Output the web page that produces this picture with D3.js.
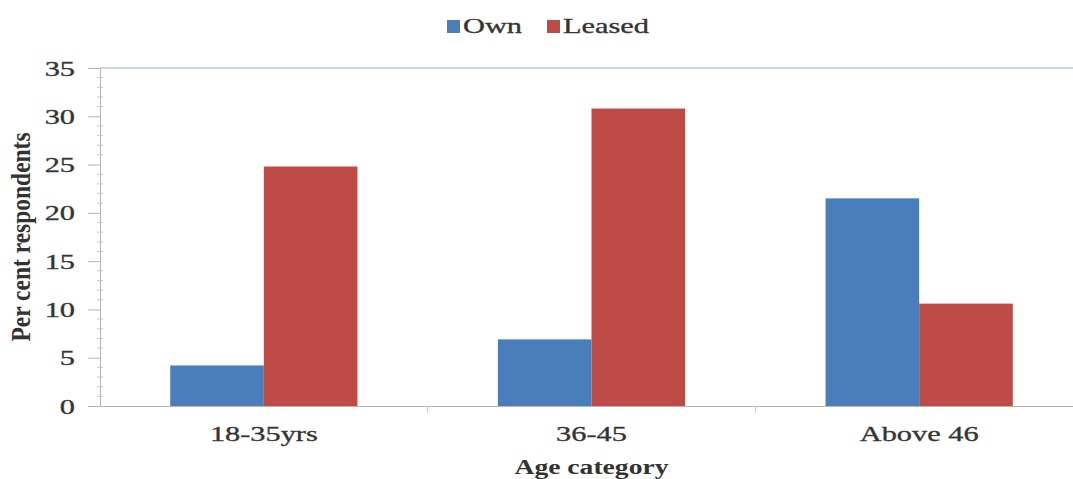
<!DOCTYPE html>
<html>
<head>
<meta charset="utf-8">
<script src="https://cdn.jsdelivr.net/npm/d3@7"></script>
<style>
  html, body { margin: 0; padding: 0; background: #fff; }
  svg { display: block; }
  text { font-family: "Liberation Serif", "Times New Roman", serif; fill: #333; }
  .reg { stroke: #3a3a3a; stroke-width: 0.35px; }
</style>
</head>
<body>
<div id="chart"></div>
<script>
// Tenure of land by age group of respondents
const categories = ["18-35yrs", "36-45", "Above 46"];
const seriesNames = ["Own", "Leased"];
const ownValues = [4.2, 6.9, 21.5];
const leasedValues = [24.8, 30.8, 10.6];
const yTicks = [0, 5, 10, 15, 20, 25, 30, 35];
const colors = ["#4a7ebb", "#be4b48"];

const W = 1073, H = 479;
const SX = 1.38; // horizontal stretch applied to lettering
const margin = { left: 100, right: -10, top: 68, bottom: 73 };
const x0 = margin.left, x1 = W - margin.right;
const yTop = margin.top, yBot = H - margin.bottom;

const svg = d3.select("#chart").append("svg")
  .attr("width", W).attr("height", H);

const x = d3.scaleBand().domain(categories).range([x0, x1]).paddingInner(0).paddingOuter(0);
const xs = d3.scaleBand().domain(seriesNames).range([0, x.bandwidth()]).paddingInner(0).paddingOuter(0.75);
const y = d3.scaleLinear().domain([0, 35]).range([yBot, yTop]);

// top frame line
svg.append("line")
  .attr("x1", x0).attr("x2", W).attr("y1", y(35)).attr("y2", y(35))
  .attr("stroke", "#b7cbe0").attr("stroke-width", 1.5);

// bars
const rows = categories.map((c, i) => ({ cat: c, vals: [ownValues[i], leasedValues[i]] }));
const g = svg.append("g");
rows.forEach(r => {
  r.vals.forEach((v, j) => {
    g.append("rect")
      .attr("x", x(r.cat) + xs(seriesNames[j]))
      .attr("y", y(v))
      .attr("width", xs.bandwidth())
      .attr("height", y(0) - y(v))
      .attr("fill", colors[j]);
  });
});

// y axis: major ticks outward, minor ticks across the line
const yAxis = svg.append("g").attr("transform", `translate(${x0},0)`)
  .call(d3.axisLeft(y).tickValues(yTicks).tickSize(12));
yAxis.select(".domain").attr("stroke", "#b5b5b5").attr("stroke-width", 1);
yAxis.selectAll(".tick line").attr("stroke", "#b5b5b5");
yAxis.selectAll(".tick text")
  .attr("x", 0)
  .attr("class", "reg")
  .attr("transform", `translate(-25,0) scale(${SX},1)`)
  .style("font-family", "Liberation Serif, serif").style("font-size", "22px").attr("fill", "#3a3a3a");
const minor = d3.range(0, 35.01, 1).filter(v => v % 5 !== 0);
yAxis.selectAll(".minor").data(minor).enter().append("line")
  .attr("x1", -3).attr("x2", 3).attr("y1", d => y(d)).attr("y2", d => y(d))
  .attr("stroke", "#c8c8c8");

// x axis
const xAxis = svg.append("g").attr("transform", `translate(0,${yBot})`)
  .call(d3.axisBottom(x).tickSize(0).tickPadding(19));
xAxis.select(".domain").attr("stroke", "#b5b5b5").attr("stroke-width", 1.2);
xAxis.selectAll(".tick text")
  .attr("class", "reg")
  .attr("transform", `scale(${SX},1)`)
  .style("font-family", "Liberation Serif, serif").style("font-size", "22px").attr("fill", "#3a3a3a");
// category separators
xAxis.selectAll(".sep").data(categories.slice(1)).enter().append("line")
  .attr("x1", d => x(d)).attr("x2", d => x(d)).attr("y1", 0).attr("y2", 7)
  .attr("stroke", "#c8c8c8");

// axis titles
svg.append("text")
  .attr("transform", `translate(${(x0 + x1) / 2},474) scale(${SX},1)`)
  .attr("text-anchor", "middle")
  .style("font-size", "20px").style("font-weight", "bold").attr("fill", "#222")
  .text("Age category");
svg.append("text")
  .attr("transform", `translate(30,237) scale(1.2,1) rotate(-90)`)
  .attr("text-anchor", "middle")
  .style("font-size", "23.5px").style("font-weight", "bold").attr("fill", "#222")
  .text("Per cent respondents");

// legend
const legend = svg.append("g").attr("transform", "translate(447,0)");
const legendX = [0, 100];
seriesNames.forEach((n, i) => {
  legend.append("rect").attr("x", legendX[i]).attr("y", 20).attr("width", 13).attr("height", 13)
    .attr("fill", colors[i]);
  legend.append("text")
    .attr("class", "reg")
    .attr("transform", `translate(${legendX[i] + 16},33) scale(${SX},1)`)
    .style("font-size", "22px").attr("fill", "#333").text(n);
});
</script>
</body>
</html>
